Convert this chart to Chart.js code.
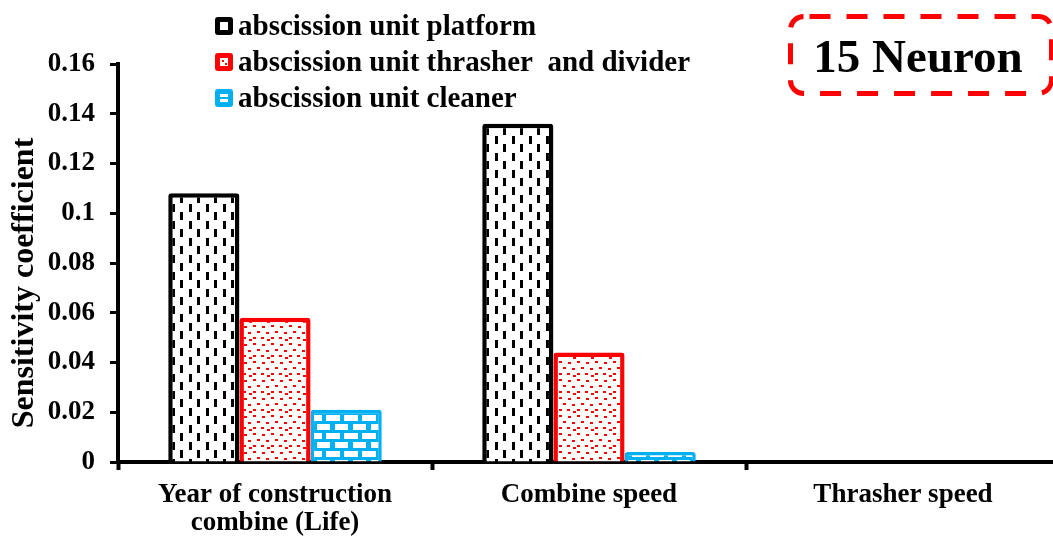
<!DOCTYPE html>
<html>
<head>
<meta charset="utf-8">
<script src="https://cdn.jsdelivr.net/npm/chart.js@4"></script>
<style>
  html, body { margin: 0; padding: 0; background: #ffffff; overflow: hidden; }
  #wrap { position: relative; width: 1060px; height: 536px; }
</style>
</head>
<body>
<div id="wrap"><canvas id="chart"></canvas></div>
<script>
// Categories (input parameters) and sensitivity coefficients per unit
const categories = [["Year of construction", "combine (Life)"], "Combine speed", "Thrasher speed"];
const seriesNames = ["abscission unit platform", "abscission unit thrasher  and divider", "abscission unit cleaner"];
const platformValues = [0.108, 0.136, 0];
const thrasherValues = [0.058, 0.044, 0];
const cleanerValues = [0.021, 0.004, 0];
const yTickValues = [0, 0.02, 0.04, 0.06, 0.08, 0.1, 0.12, 0.14, 0.16];
const yAxisTitle = "Sensitivity coefficient";
const badgeText = "15 Neuron";

const SERIF = '"Liberation Serif", "Times New Roman", serif';
const BLACK = '#000000';
const RED = '#FF0000';
const BLUE = '#00B0F0';

// Fill patterns: dashed verticals, scattered dots, bricks
function makeTile(w, h, draw) {
  const c = document.createElement('canvas');
  c.width = w; c.height = h;
  const g = c.getContext('2d');
  draw(g);
  return document.getElementById('chart').getContext('2d').createPattern(c, 'repeat');
}
const dashPattern = makeTile(17, 17, g => {
  g.fillStyle = '#fff'; g.fillRect(0, 0, 17, 17);
  g.fillStyle = BLACK;
  g.fillRect(2, 0, 3, 8);
  g.fillRect(10, 8, 3, 8);
});
const dotPattern = makeTile(18, 18, g => {
  g.fillStyle = '#fff'; g.fillRect(0, 0, 18, 18);
  g.fillStyle = RED;
  const dots = [[1,1],[10,2],[5,7],[14,8],[1,13],[9,13],[15,15]];
  dots.forEach(([x, y]) => g.fillRect(x, y, 3, 2));
});
const brickPattern = makeTile(18, 18, g => {
  g.fillStyle = BLUE; g.fillRect(0, 0, 18, 18);
  g.fillStyle = '#fff';
  g.fillRect(2, 1, 14, 6);
  g.fillRect(0, 10, 6, 6);
  g.fillRect(11, 10, 7, 6);
});

// Legend drawn as a stacked list in the upper left of the plot
const stackedLegend = {
  id: 'stackedLegend',
  afterDraw(chart) {
    const ctx = chart.ctx;
    const rows = [26, 62, 98];
    ctx.save();
    chart.data.datasets.forEach((ds, i) => {
      const y = rows[i];
      const x = 215;
      ctx.beginPath();
      ctx.roundRect(x, y - 9, 18, 18, 3);
      ctx.fillStyle = ds.borderColor;
      ctx.fill();
      ctx.fillStyle = '#fff';
      ctx.fillRect(x + 5, y - 4, 8, 8);
      ctx.fillStyle = ds.borderColor;
      if (i === 1) { ctx.fillRect(x + 7, y - 2, 2, 2); ctx.fillRect(x + 10, y + 1, 2, 2); }
      if (i === 2) { ctx.fillRect(x + 5, y - 1, 8, 2); }
      ctx.fillStyle = BLACK;
      ctx.font = 'bold 29px ' + SERIF;
      ctx.textBaseline = 'alphabetic';
      ctx.textAlign = 'left';
      ctx.fillText(ds.label, 238, y + 9);
    });
    ctx.restore();
  }
};

// Rotated axis title placed beside the tick labels
const yTitle = {
  id: 'yTitle',
  afterDraw(chart) {
    const ctx = chart.ctx;
    ctx.save();
    ctx.translate(25, 283);
    ctx.rotate(-Math.PI / 2);
    ctx.fillStyle = BLACK;
    ctx.font = 'bold 32px ' + SERIF;
    ctx.textAlign = 'center';
    ctx.textBaseline = 'middle';
    ctx.fillText(yAxisTitle, 0, 0);
    ctx.restore();
  }
};

// Dashed red rounded badge in the upper right
const badge = {
  id: 'badge',
  afterDraw(chart) {
    const ctx = chart.ctx;
    ctx.save();
    ctx.beginPath();
    ctx.roundRect(790.5, 16.5, 261, 77, 13);
    ctx.setLineDash([21, 16]);
    ctx.lineDashOffset = -6;
    ctx.lineWidth = 5;
    ctx.strokeStyle = RED;
    ctx.stroke();
    ctx.setLineDash([]);
    ctx.fillStyle = BLACK;
    ctx.font = 'bold 47px ' + SERIF;
    ctx.textAlign = 'center';
    ctx.textBaseline = 'alphabetic';
    ctx.fillText(badgeText, 918, 72);
    ctx.restore();
  }
};

new Chart(document.getElementById('chart'), {
  type: 'bar',
  data: {
    labels: categories,
    datasets: [
      { label: seriesNames[0], data: platformValues, backgroundColor: dashPattern, borderColor: BLACK, borderWidth: 4.5, borderRadius: 3 },
      { label: seriesNames[1], data: thrasherValues, backgroundColor: dotPattern, borderColor: RED, borderWidth: 4.5, borderRadius: 3 },
      { label: seriesNames[2], data: cleanerValues, backgroundColor: brickPattern, borderColor: BLUE, borderWidth: 3.5, borderRadius: 3 }
    ]
  },
  options: {
    responsive: true,
    maintainAspectRatio: false,
    animation: false,
    events: [],
    layout: { padding: { top: 64, right: 0, left: 0, bottom: 0 } },
    datasets: { bar: { categoryPercentage: 0.68, barPercentage: 1.0 } },
    plugins: { legend: { display: false }, tooltip: { enabled: false } },
    scales: {
      x: {
        grid: { display: true, drawOnChartArea: false, drawTicks: true, tickLength: 8, tickWidth: 4, tickColor: BLACK, offset: true },
        border: { display: true, color: BLACK, width: 4 },
        ticks: { color: BLACK, font: { family: SERIF, size: 27, weight: 'bold', lineHeight: 1.05 }, padding: 11, maxRotation: 0, autoSkip: false },
        afterFit(scale) { scale.height = 74; }
      },
      y: {
        min: 0,
        max: 0.16,
        afterBuildTicks(scale) { scale.ticks = yTickValues.map(v => ({ value: v })); },
        grid: { display: true, drawOnChartArea: false, drawTicks: true, tickLength: 8, tickWidth: 3, tickColor: BLACK },
        border: { display: true, color: BLACK, width: 4 },
        ticks: {
          color: BLACK,
          font: { family: SERIF, size: 27, weight: 'bold' },
          padding: 15,
          callback: v => String(+v.toFixed(2))
        },
        title: { display: false },
        afterFit(scale) { scale.width = 118; }
      }
    }
  },
  plugins: [stackedLegend, yTitle, badge]
});
</script>
</body>
</html>
